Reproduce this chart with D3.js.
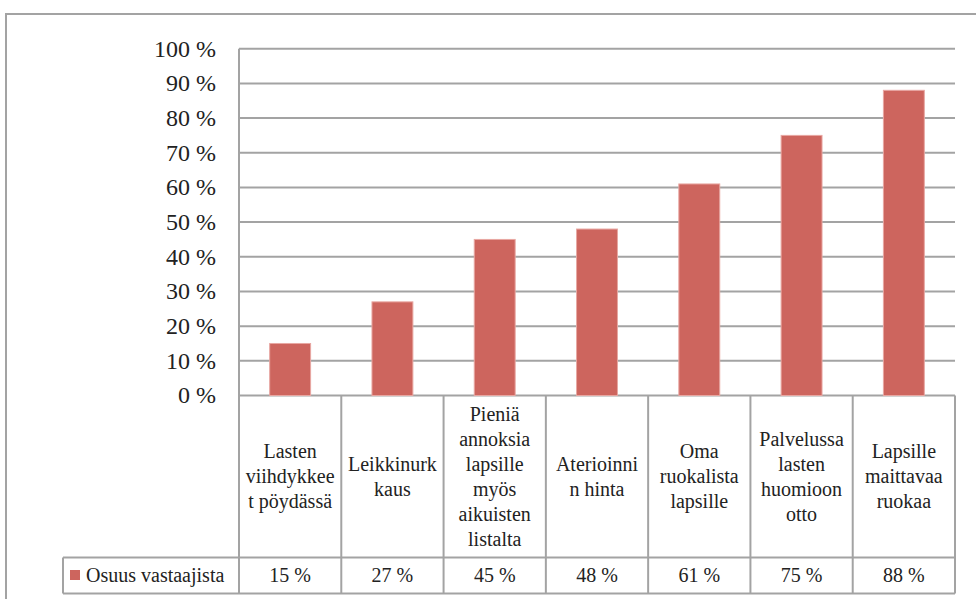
<!DOCTYPE html>
<html>
<head>
<meta charset="utf-8">
<script src="https://cdn.jsdelivr.net/npm/d3@7/dist/d3.min.js"></script>
<style>
  body { margin: 0; background: #fff; }
</style>
</head>
<body>
<svg id="chart" width="976" height="599"></svg>
<script>
// data
var categories = ['Lasten viihdykkeet pöydässä', 'Leikkinurkkaus', 'Pieniä annoksia lapsille myös aikuisten listalta',
  'Aterioinnin hinta', 'Oma ruokalista lapsille', 'Palvelussa lasten huomioon otto', 'Lapsille maittavaa ruokaa'];
var labelLines = [
  ['Lasten', 'viihdykkee', 't pöydässä'],
  ['Leikkinurk', 'kaus'],
  ['Pieniä', 'annoksia', 'lapsille', 'myös', 'aikuisten', 'listalta'],
  ['Aterioinni', 'n hinta'],
  ['Oma', 'ruokalista', 'lapsille'],
  ['Palvelussa', 'lasten', 'huomioon', 'otto'],
  ['Lapsille', 'maittavaa', 'ruokaa']
];
var values = [15, 27, 45, 48, 61, 75, 88];
var seriesName = 'Osuus vastaajista';
var yTicks = [0, 10, 20, 30, 40, 50, 60, 70, 80, 90, 100];

var svg = d3.select('#chart');
var serif = "'Liberation Serif', 'DejaVu Serif', 'Noto Serif', Tinos, 'Times New Roman', Times, FreeSerif, Georgia, serif";
var gridColor = '#a3a3a3';
var barColor = '#cd655e';

// outer chart frame (runs off the right and bottom)
svg.append('rect').attr('x', 6).attr('y', 14).attr('width', 1000).attr('height', 700)
  .attr('fill', 'none').attr('stroke', gridColor).attr('stroke-width', 2);

var plotLeft = 239, plotRight = 955, plotTop = 48.7, plotBottom = 395.5;
var headBottom = 557.5, tableBottom = 593.5, legendLeft = 63;

var x = d3.scaleBand().domain(categories).range([plotLeft, plotRight]).paddingInner(0.6).paddingOuter(0.3);
var y = d3.scaleLinear().domain([0, 100]).range([plotBottom, plotTop]);
var step = x.step();
var colX = function (d) { return x(d) - x.bandwidth() * 0.75; };

// gridlines
svg.append('g').selectAll('line').data(yTicks).enter().append('line')
  .attr('x1', plotLeft).attr('x2', plotRight)
  .attr('y1', function (d) { return y(d); }).attr('y2', function (d) { return y(d); })
  .attr('stroke', gridColor).attr('stroke-width', 2);

// y labels
svg.append('g').selectAll('text').data(yTicks).enter().append('text')
  .attr('x', 216).attr('y', function (d) { return y(d); })
  .attr('dy', '0.33em').attr('text-anchor', 'end')
  .style('font-family', serif).attr('font-size', 24).attr('fill', '#222')
  .text(function (d) { return d + ' %'; });

// bars
svg.append('g').selectAll('rect').data(values).enter().append('rect')
  .attr('x', function (d, i) { return x(categories[i]); })
  .attr('y', function (d) { return y(d); })
  .attr('width', x.bandwidth())
  .attr('height', function (d) { return y(0) - y(d); })
  .attr('fill', barColor).attr('stroke', '#e8a7a2').attr('stroke-width', 1);

// data table lines
var tbl = svg.append('g').attr('stroke', gridColor).attr('stroke-width', 2);
tbl.append('line').attr('x1', plotLeft).attr('x2', plotLeft).attr('y1', plotTop).attr('y2', tableBottom);
categories.forEach(function (c) {
  var right = colX(c) + step;
  tbl.append('line').attr('x1', right).attr('x2', right).attr('y1', plotBottom).attr('y2', tableBottom);
});
tbl.append('line').attr('x1', legendLeft).attr('x2', plotRight).attr('y1', headBottom).attr('y2', headBottom);
tbl.append('line').attr('x1', legendLeft).attr('x2', plotRight).attr('y1', tableBottom).attr('y2', tableBottom);
tbl.append('line').attr('x1', legendLeft).attr('x2', legendLeft).attr('y1', headBottom).attr('y2', tableBottom);

// category labels
var lineH = 25;
var headMid = (plotBottom + headBottom) / 2;
categories.forEach(function (c, i) {
  var lines = labelLines[i];
  var t = svg.append('text').attr('text-anchor', 'middle')
    .style('font-family', serif).attr('font-size', 20).attr('fill', '#222');
  lines.forEach(function (s, j) {
    t.append('tspan').attr('x', x(c) + x.bandwidth() / 2)
      .attr('y', headMid + (j - (lines.length - 1) / 2) * lineH)
      .attr('dy', '0.33em').text(s);
  });
});

// value row
var rowMid = (headBottom + tableBottom) / 2;
svg.append('g').selectAll('text').data(values).enter().append('text')
  .attr('x', function (d, i) { return x(categories[i]) + x.bandwidth() / 2; })
  .attr('y', rowMid).attr('dy', '0.33em').attr('text-anchor', 'middle')
  .style('font-family', serif).attr('font-size', 20).attr('fill', '#222')
  .text(function (d) { return d + ' %'; });

// legend key
svg.append('rect').attr('x', 70).attr('y', rowMid - 5.5).attr('width', 10).attr('height', 10).attr('fill', barColor);
svg.append('text').attr('x', 86).attr('y', rowMid).attr('dy', '0.33em')
  .style('font-family', serif).attr('font-size', 20).attr('fill', '#222').text(seriesName);
</script>
</body>
</html>
